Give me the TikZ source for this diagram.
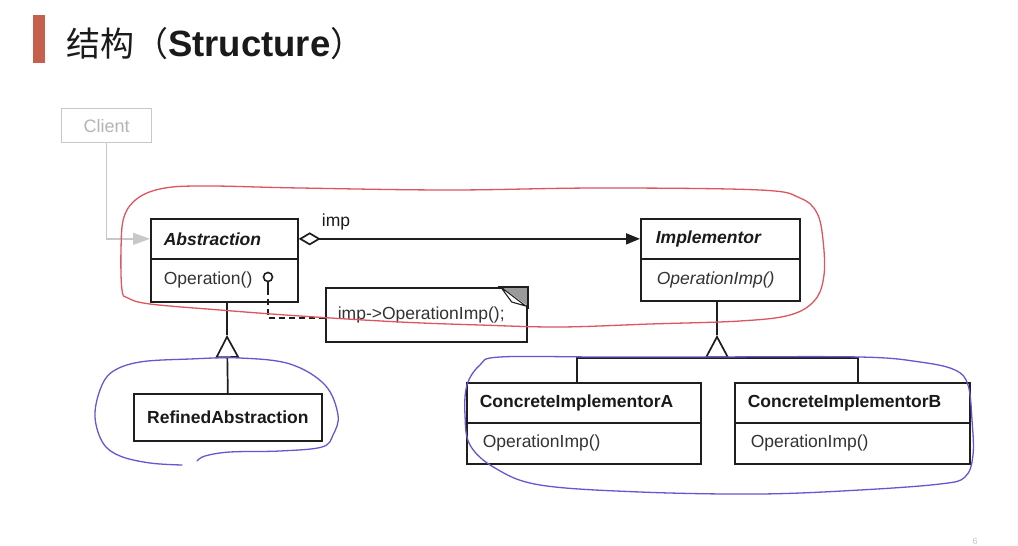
\documentclass[tikz,border=0pt]{standalone}
\usepackage{fontspec}
\setmainfont{Liberation Sans}
\newfontfamily\cjk{Noto Sans CJK SC}
\usetikzlibrary{arrows.meta,calc}

\definecolor{linec}{HTML}{1E1E1E}
\definecolor{textc}{HTML}{1A1A1A}
\definecolor{opc}{HTML}{333333}
\definecolor{faint}{HTML}{C8C8C8}
\definecolor{faintText}{HTML}{B4B4B4}
\definecolor{barc}{HTML}{C6604C}
\definecolor{penred}{HTML}{DC5560}
\definecolor{penblue}{HTML}{6458D0}
\definecolor{foldc}{HTML}{9A9A9A}

\tikzset{
  classpart/.style={draw=linec, line width=1.7pt, rectangle, anchor=north west,
    inner ysep=0pt, align=left, text=textc,
    font=\fontsize{17.5}{20}\selectfont},
  plainbox/.style={draw=linec, line width=1.7pt, rectangle, anchor=north west,
    inner sep=0pt, text=textc, font=\fontsize{17.5}{20}\selectfont\bfseries},
  link/.style={draw=linec, line width=1.7pt},
  dashlink/.style={draw=linec, line width=1.9pt, dash pattern=on 6pt off 4pt},
  inherit/.style={link, -{Triangle[open, length=23pt, width=24pt, line width=1.7pt]}},
  pen/.style={line width=1.3pt, line join=round, line cap=round},
}

\begin{document}
\begin{tikzpicture}[x=1pt, y=-1pt]
\useasboundingbox (0,0) rectangle (1018,546);
\fill[white] (0,0) rectangle (1018,546);

% heading
\fill[barc] (33,15) rectangle (45,63);
\node[anchor=west, inner sep=0pt, text=textc] (title) at (66,44)
  {\fontsize{34}{40}\selectfont{\cjk 结构（}{\fontsize{36.5}{40}\selectfont\bfseries Structure}{\cjk ）}};

% client
\node[draw=faint, line width=1.4pt, rectangle, anchor=north west,
      minimum width=90pt, minimum height=34pt, inner sep=0pt,
      text=faintText, font=\fontsize{18}{20}\selectfont] (client) at (61,108) {Client};

% Abstraction
\node[classpart, text width=121pt, inner xsep=13pt, minimum height=40pt] (abshead) at (150,218)
  {\bfseries\itshape Abstraction};
\node[classpart, text width=121pt, inner xsep=13pt, minimum height=43pt, text=opc] (absbody) at (150,258)
  {Operation()};

% Implementor
\node[classpart, text width=129pt, inner xsep=15pt, minimum height=40pt] (imphead) at (640,218)
  {\bfseries\itshape Implementor};
\node[classpart, text width=127pt, inner xsep=16pt, minimum height=42pt, text=opc] (impbody) at (640,258)
  {\itshape OperationImp()};

% RefinedAbstraction
\node[plainbox, minimum width=188pt, minimum height=47pt] (refined) at (133,393) {RefinedAbstraction};

% ConcreteImplementorA
\node[classpart, text width=208pt, inner xsep=13pt, minimum height=40pt] (ciahead) at (466,382)
  {\bfseries ConcreteImplementorA};
\node[classpart, text width=202pt, inner xsep=16pt, minimum height=41pt, text=opc] (ciabody) at (466,422)
  {OperationImp()};

% ConcreteImplementorB
\node[classpart, text width=209pt, inner xsep=13pt, minimum height=40pt] (cibhead) at (734,382)
  {\bfseries ConcreteImplementorB};
\node[classpart, text width=203pt, inner xsep=16pt, minimum height=41pt, text=opc] (cibbody) at (734,422)
  {OperationImp()};

% note with folded corner
\node[classpart, minimum width=201pt, minimum height=54pt, text width=177pt, inner xsep=12pt,
      text=opc, font=\fontsize{17.5}{20}\selectfont] (note) at (325,287)
  {\raisebox{-3pt}{imp->OperationImp();}};
\fill[foldc] ($(note.north east)+(-26,0)$) -- (note.north east) -- ($(note.north east)+(0,19)$) -- cycle;
\filldraw[fill=white, draw=linec, line width=1.1pt, line join=round]
  ($(note.north east)+(-27,0)$) -- ($(note.north east)+(-16,15)$) -- ($(note.north east)+(-2,19)$) -- cycle;
\draw[linec, line width=1.7pt] ($(note.north east)+(-30,0)$) -- (note.north east) -- ($(note.north east)+(0,22)$);

% client association
\draw[faint, line width=1.4pt, -{Triangle[length=17pt, width=12pt]}] (client.south) |- (abshead.west);

% aggregation imp
\draw[link, {Diamond[open, length=22pt, width=13pt, line width=1.7pt]}-{Triangle[length=14pt, width=11pt]}]
  (abshead.east) -- (imphead.west);
\node[inner sep=0pt, text=textc, font=\fontsize{17.5}{20}\selectfont] (implbl) at (336,222) {imp};

% lollipop to note
\node[circle, draw=linec, line width=1.6pt, minimum size=9pt, inner sep=0pt] (lolli) at (268,277) {};
\coordinate (stem) at (268,289);
\draw[link] (lolli.south) -- (stem);
\draw[dashlink] (stem) |- ([yshift=-3pt]note.west);

% generalisation Abstraction
\coordinate (atip) at (227,335);
\draw[inherit] (refined.north) -- (atip);
\draw[link] (atip) -- (atip |- absbody.south);

% generalisation Implementor
\coordinate (itip) at (717,335);
\coordinate (ibase) at (717,358);
\coordinate (barL) at (577,358);
\coordinate (barR) at (858,358);
\draw[link] (barL |- ciahead.north) -- (barL) -- (barR) -- (barR |- cibhead.north);
\draw[inherit] (ibase) -- (itip);
\draw[link] (itip) -- (itip |- impbody.south);

% pen annotations
\draw[pen, penred] plot[smooth cycle, tension=0.6] coordinates {
  (122,290) (121,250) (124,217) (138,198) (165,188) (210,186) (300,188) (450,190)
  (600,188) (760,190) (800,198) (817,213) (823,240) (824,275) (815,300) (790,315)
  (740,321) (650,324) (560,327) (480,325) (400,322) (300,316) (220,310) (150,304) (128,298)};

\draw[pen, penblue] plot[smooth, tension=0.6] coordinates {
  (182,465) (150,463) (120,456) (103,443) (95,417) (100,390) (112,372) (140,362)
  (190,359) (240,358) (290,364) (325,385) (338,415) (333,435) (322,447) (280,451)
  (230,452) (205,456) (197,461)};

\draw[pen, penblue] plot[smooth cycle, tension=0.6] coordinates {
  (500,357) (600,357) (700,357) (860,357) (920,362) (955,370) (968,385) (972,420)
  (973,455) (965,477) (940,484) (860,490) (760,494) (640,492) (540,485) (495,468)
  (470,445) (465,415) (467,385) (480,365)};

% page number
\node[inner sep=0pt, text=faint, font=\fontsize{9}{10}\selectfont] (pagenum) at (975,541) {6};
\end{tikzpicture}
\end{document}
